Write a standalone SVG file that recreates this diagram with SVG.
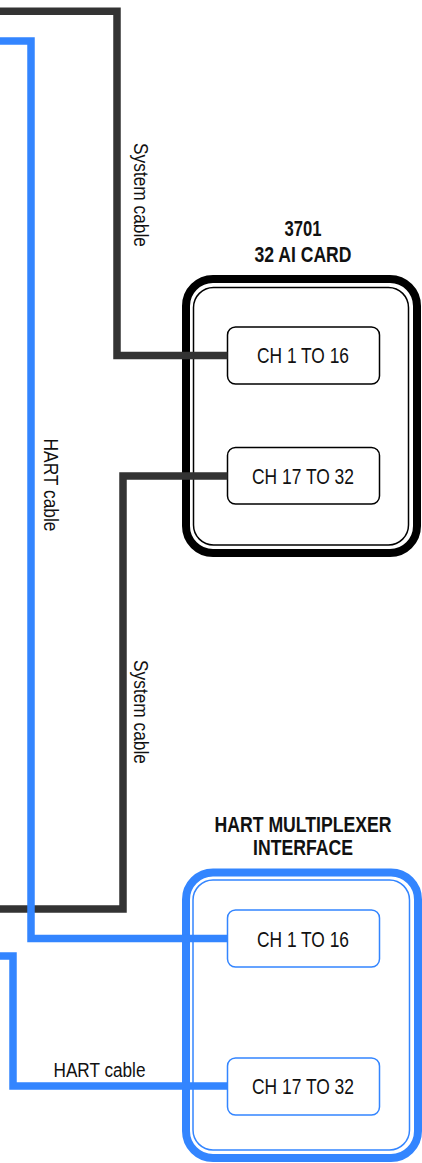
<svg xmlns="http://www.w3.org/2000/svg" width="422" height="1163" viewBox="0 0 422 1163">
<style>
text{font-family:"Liberation Sans Narrow","Liberation Sans",Arial,sans-serif;fill:#111;text-anchor:middle}
.t{font-size:21.5px;font-weight:bold}
.ch{font-size:22.5px}
.lbl{font-size:19.5px}
.outerK{fill:#fff;stroke:#000;stroke-width:8}
.innerK{fill:none;stroke:#000;stroke-width:1.5}
.outerB{fill:#fff;stroke:#3385ff;stroke-width:8}
.innerB{fill:none;stroke:#3385ff;stroke-width:1.5}
.boxK{fill:#fff;stroke:#000;stroke-width:1.5}
.boxB{fill:#fff;stroke:#3385ff;stroke-width:1.5}
.sys{fill:none;stroke:#333;stroke-width:7.5;stroke-linejoin:miter}
.hart{fill:none;stroke:#3385ff;stroke-width:7.5;stroke-linejoin:miter}
</style>
<rect width="422" height="1163" fill="#fff"/>
<g id="card3701">
<rect class="outerK" x="186" y="279" width="231" height="274" rx="27"/>
<rect class="innerK" x="193.5" y="287.5" width="215" height="257.5" rx="20"/>
<text class="t" x="303" y="235.5" textLength="37" lengthAdjust="spacingAndGlyphs">3701</text>
<text class="t" x="303" y="261.5" textLength="97" lengthAdjust="spacingAndGlyphs">32 AI CARD</text>
</g>
<g id="card-ch1">
<rect class="boxK" x="227.5" y="327" width="152" height="57" rx="8"/>
<text class="ch" x="303" y="363" textLength="92" lengthAdjust="spacingAndGlyphs">CH 1 TO 16</text>
</g>
<g id="card-ch17">
<rect class="boxK" x="227.5" y="447.5" width="152" height="56.5" rx="8"/>
<text class="ch" x="303" y="484" textLength="102" lengthAdjust="spacingAndGlyphs">CH 17 TO 32</text>
</g>
<g id="hartmux">
<rect class="outerB" x="186" y="872.5" width="232" height="285.5" rx="27"/>
<rect class="innerB" x="193" y="880" width="216.5" height="270" rx="20"/>
<text class="t" x="303" y="831.5" textLength="177" lengthAdjust="spacingAndGlyphs">HART MULTIPLEXER</text>
<text class="t" x="303" y="855" textLength="100" lengthAdjust="spacingAndGlyphs">INTERFACE</text>
</g>
<g id="mux-ch1">
<rect class="boxB" x="227.5" y="910" width="152" height="57" rx="8"/>
<text class="ch" x="303" y="946.5" textLength="92" lengthAdjust="spacingAndGlyphs">CH 1 TO 16</text>
</g>
<g id="mux-ch17">
<rect class="boxB" x="227.5" y="1058" width="152" height="57" rx="8"/>
<text class="ch" x="303" y="1094" textLength="102" lengthAdjust="spacingAndGlyphs">CH 17 TO 32</text>
</g>
<g id="connectors">
<path class="sys" d="M0 11.3H117V355.5H227.5"/>
<path class="sys" d="M0 909H123V476H227.5"/>
<path class="hart" d="M0 41H31V938.5H227.5"/>
<path class="hart" d="M0 956H13V1086H227.5"/>
<text class="lbl" transform="translate(133.5 195) rotate(90)" textLength="104" lengthAdjust="spacingAndGlyphs">System cable</text>
<text class="lbl" transform="translate(134 712) rotate(90)" textLength="104" lengthAdjust="spacingAndGlyphs">System cable</text>
<text class="lbl" transform="translate(44 485) rotate(90)" textLength="93" lengthAdjust="spacingAndGlyphs">HART cable</text>
<text class="lbl" x="99.5" y="1077" textLength="92" lengthAdjust="spacingAndGlyphs">HART cable</text>
</g>
</svg>
